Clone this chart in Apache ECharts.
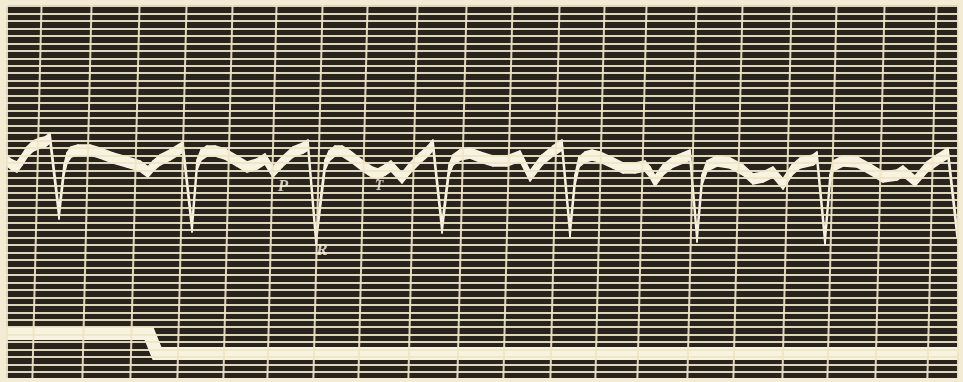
<!DOCTYPE html>
<html>
<head>
<meta charset="utf-8">
<script src="https://cdn.jsdelivr.net/npm/echarts@6/dist/echarts.min.js"></script>
<style>
  html, body { margin: 0; padding: 0; background: #f1e9d3; }
  #chart { width: 963px; height: 382px; }
</style>
</head>
<body>
<div id="chart"></div>
<script>
// Time (abscissa) of each sampled point of the galvanometer trace
const traceTime = [
  1, 6, 11, 16, 21, 27, 34, 39, 44, 53,
  58, 61, 65, 72, 84, 94, 107, 121, 134, 142, 147, 154, 164, 177, 186,
  191, 195, 201, 209, 219, 231, 241, 251, 259, 267, 276, 287, 297, 302, 310,
  319, 323, 329, 336, 344, 357, 366, 372, 379, 385, 396, 404, 414, 422, 427, 436,
  443, 447, 454, 464, 474, 487, 501, 514, 524, 536, 547, 556, 564,
  569, 573, 579, 586, 594, 607, 617, 629, 639, 644, 649, 657, 667, 677, 684, 691,
  696, 701, 711, 724, 737, 747, 757, 767, 777, 786, 794, 807, 811, 819,
  824, 827, 837, 851, 864, 877, 891, 897, 909, 921, 931, 942, 951
];
// Deflection of the trace (centre of the recorded band)
const traceValue = [
  217, 213, 211, 218, 226, 232, 235, 236, 240, 164,
  208, 220, 226, 228, 228, 225, 220, 216, 212, 206, 212, 218, 223, 231, 151,
  213, 223, 227, 227, 224, 217, 211, 214, 219, 206, 216, 226, 230, 233, 138,
  213, 222, 227, 227, 222, 212, 206, 204, 208, 212, 200, 210, 220, 227, 233, 150,
  208, 218, 223, 225, 221, 217, 217, 222, 202, 218, 227, 233, 146,
  198, 216, 221, 223, 221, 215, 210, 210, 212, 206, 197, 208, 216, 220, 223, 141,
  198, 212, 217, 215, 208, 199, 201, 206, 194, 208, 215, 218, 221, 138,
  198, 212, 217, 216, 209, 201, 203, 207, 197, 211, 218, 225, 146
];
// Vertical height of the light spot that writes the trace
const spotHeight = 10;

// Time-marker strip: level before and after the signal step
const markerTime = [0, 143, 151, 952];
const markerValue = [44.5, 44.5, 24.5, 24.5];

// Ruled paper: vertical rules (at mid height) and horizontal rule pitch
const verticalRules = [31, 81, 129, 176, 222, 266, 312, 357, 407, 456, 502, 549, 594, 636, 686, 732, 781, 826, 874, 926];
const ruleTilt = 0.0245;
const horizontalTop = 372;
const horizontalPitch = 7.47;
const horizontalCount = 50;

// Wave letters
const waveLabels = [
  { name: 'R', value: [316, 127], size: 17 },
  { name: 'P', value: [277, 191], size: 17 },
  { name: 'T', value: [373, 192], size: 14 }
];

const X_MAX = 952, Y_MAX = 373, Y_MID = 188;
const paper = '#f3ebd4';
const ink = '#f8f2e0';

const ruleLines = [];
for (let i = 0; i < horizontalCount; i++) {
  const v = horizontalTop - i * horizontalPitch;
  if (v >= 0) ruleLines.push({ yAxis: v });
}
verticalRules.forEach(t => {
  ruleLines.push([
    { coord: [t + ruleTilt * (0 - Y_MID), 0] },
    { coord: [t + ruleTilt * (Y_MAX - Y_MID), Y_MAX] }
  ]);
});
ruleLines.push({ xAxis: 1 });
ruleLines.push({ xAxis: X_MAX - 0.5 });

// One item per segment of the trace: the spot sweeps a band of fixed height
const segments = [];
for (let i = 0; i < traceTime.length - 1; i++) {
  segments.push([traceTime[i], traceValue[i], traceTime[i + 1], traceValue[i + 1]]);
}
const marker = markerTime.map((t, i) => [t, markerValue[i]]);

function renderSpot(params, api) {
  const t0 = api.value(0), v0 = api.value(1), t1 = api.value(2), v1 = api.value(3);
  const h = spotHeight / 2;
  const a = api.coord([t0, v0 + h]);
  const b = api.coord([t1, v1 + h]);
  const c = api.coord([t1, v1 - h]);
  const d = api.coord([t0, v0 - h]);
  return {
    type: 'polygon',
    shape: { points: [a, b, c, d] },
    style: { fill: ink, stroke: ink, lineWidth: 1.6, lineJoin: 'round' }
  };
}

const chart = echarts.init(document.getElementById('chart'), null, { renderer: 'canvas' });
chart.setOption({
  animation: false,
  backgroundColor: paper,
  grid: {
    left: 6, top: 5, right: 5, bottom: 4,
    show: true, backgroundColor: '#29231e', borderWidth: 0
  },
  xAxis: {
    type: 'value', min: 0, max: X_MAX,
    axisLine: { show: false }, axisTick: { show: false },
    axisLabel: { show: false }, splitLine: { show: false }
  },
  yAxis: {
    type: 'value', min: 0, max: Y_MAX,
    axisLine: { show: false }, axisTick: { show: false },
    axisLabel: { show: false }, splitLine: { show: false }
  },
  series: [
    {
      name: 'rules', type: 'line', data: [[0, 0]],
      showSymbol: false, symbol: 'none',
      lineStyle: { width: 0, opacity: 0 },
      silent: true, z: 1,
      markLine: {
        silent: true, symbol: ['none', 'none'],
        label: { show: false },
        lineStyle: { color: '#efe5c6', width: 2, type: 'solid', opacity: 0.92 },
        emphasis: { disabled: true },
        data: ruleLines
      }
    },
    {
      name: 'time marker', type: 'line', data: marker,
      showSymbol: false, symbol: 'none', z: 3,
      lineStyle: { color: ink, width: 13, join: 'miter', cap: 'butt' }
    },
    {
      name: 'trace', type: 'custom', z: 4,
      renderItem: renderSpot,
      encode: { x: [0, 2], y: [1, 3] },
      data: segments
    },
    {
      name: 'waves', type: 'scatter', symbolSize: 0, z: 5,
      data: waveLabels.map(d => ({
        name: d.name, value: d.value,
        label: {
          show: true, position: 'inside', formatter: '{b}',
          color: ink, fontFamily: 'Liberation Serif, DejaVu Serif, serif',
          fontStyle: 'italic', fontWeight: 'bold', fontSize: d.size
        }
      }))
    }
  ]
});
</script>
</body>
</html>
